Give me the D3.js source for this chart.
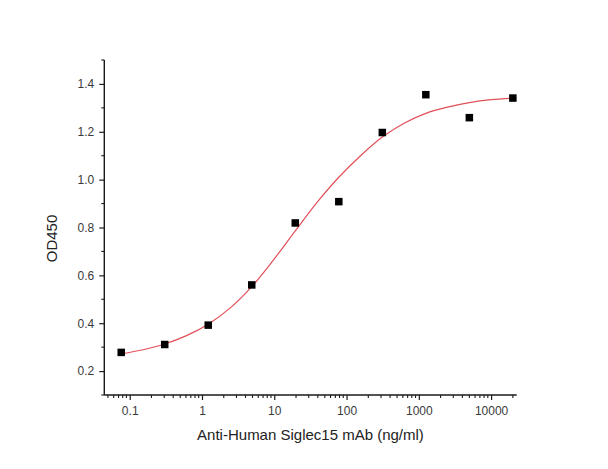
<!DOCTYPE html>
<html>
<head>
<meta charset="utf-8">
<script src="https://cdn.jsdelivr.net/npm/d3@7"></script>
<style>
  html, body { margin: 0; padding: 0; background: #fff; }
  svg { display: block; }
</style>
</head>
<body>
<svg id="chart" width="608" height="469"></svg>
<script>
// Measured points (4-fold dilution series, ng/ml) and OD450 readings
const concentrations = [0.0763, 0.305, 1.22, 4.88, 19.53, 78.125, 312.5, 1250, 5000, 20000];
const od450 = [0.278, 0.311, 0.392, 0.560, 0.819, 0.908, 1.197, 1.355, 1.259, 1.341];

// Fitted curve (2-fold steps)
const fitConc = [20000, 10000, 5000, 2500, 1250, 625, 312.5, 156.25, 78.125, 39.06, 19.53, 9.77, 4.88, 2.44, 1.22, 0.61, 0.305, 0.153, 0.0763];
const fitOD = [1.340, 1.334, 1.322, 1.303, 1.277, 1.236, 1.178, 1.100, 1.010, 0.905, 0.786, 0.665, 0.553, 0.463, 0.396, 0.348, 0.313, 0.289, 0.272];

// Axis ticks
const xTickValues = [0.1, 1, 10, 100, 1000, 10000];
const xTickLabels = ["0.1", "1", "10", "100", "1000", "10000"];
const yTickValues = [0.2, 0.4, 0.6, 0.8, 1.0, 1.2, 1.4];
const yTickLabels = ["0.2", "0.4", "0.6", "0.8", "1.0", "1.2", "1.4"];
const yMinorValues = [0.1, 0.3, 0.5, 0.7, 0.9, 1.1, 1.3, 1.5];

const xTitle = "Anti-Human Siglec15 mAb (ng/ml)";
const yTitle = "OD450";

(function () {
const svg = d3.select("#chart");
const mLeft = 104.3, mRight = 516.7, mTop = 60, mBottom = 395;

const x = d3.scaleLog().domain([0.0445, 22600]).range([mLeft, mRight]);
const y = d3.scaleLinear().domain([0.1, 1.5]).range([mBottom, mTop]);

const font = "Arial, 'Liberation Sans', sans-serif";
const axisColor = "#1a1a1a";
const labelColor = "#3a3a3a";

// x minor ticks (log 2..9 per decade)
const xMinor = [];
for (let e = -2; e <= 4; e++) {
  for (let m = 2; m <= 9; m++) {
    const v = m * Math.pow(10, e);
    if (v >= x.domain()[0] && v <= x.domain()[1]) xMinor.push(v);
  }
}

// X axis
const gx = svg.append("g").attr("transform", `translate(0,${mBottom})`);
gx.call(d3.axisBottom(x).tickValues(xTickValues).tickFormat((d, i) => xTickLabels[i]).tickSize(5).tickPadding(6));
gx.select(".domain").attr("stroke", axisColor).attr("stroke-width", 1.4).attr("d", `M${mLeft},0H${mRight}`);
gx.selectAll(".tick line").attr("stroke", axisColor).attr("stroke-width", 1.2);
gx.selectAll(".tick text").attr("fill", labelColor).style("font-family", font).style("font-size", "12px");
gx.selectAll(".minor").data(xMinor).enter().append("line")
  .attr("class", "minor")
  .attr("x1", d => x(d)).attr("x2", d => x(d))
  .attr("y1", 0).attr("y2", 3)
  .attr("stroke", axisColor).attr("stroke-width", 1.1);

// Y axis
const gy = svg.append("g").attr("transform", `translate(${mLeft},0)`);
gy.call(d3.axisLeft(y).tickValues(yTickValues).tickFormat((d, i) => yTickLabels[i]).tickSize(5).tickPadding(5));
gy.select(".domain").attr("stroke", axisColor).attr("stroke-width", 1.4).attr("d", `M0,${mTop}V${mBottom}`);
gy.selectAll(".tick line").attr("stroke", axisColor).attr("stroke-width", 1.2);
gy.selectAll(".tick text").attr("fill", labelColor).style("font-family", font).style("font-size", "12px");
gy.selectAll(".minor").data(yMinorValues).enter().append("line")
  .attr("class", "minor")
  .attr("x1", 0).attr("x2", -3)
  .attr("y1", d => y(d)).attr("y2", d => y(d))
  .attr("stroke", axisColor).attr("stroke-width", 1.1);

// Fit curve
const fitData = fitConc.map((c, i) => ({ c, v: fitOD[i] })).sort((a, b) => a.c - b.c);
svg.append("path")
  .datum(fitData)
  .attr("fill", "none")
  .attr("stroke", "#e2505a")
  .attr("stroke-width", 1.2)
  .attr("d", d3.line().x(d => x(d.c)).y(d => y(d.v)).curve(d3.curveCatmullRom.alpha(0.5)));

// Points
const s = 7.5;
svg.selectAll(".pt").data(concentrations.map((c, i) => ({ c, v: od450[i] })))
  .enter().append("rect")
  .attr("class", "pt")
  .attr("x", d => x(d.c) - s / 2).attr("y", d => y(d.v) - s / 2)
  .attr("width", s).attr("height", s)
  .attr("fill", "#000");

// Titles
svg.append("text")
  .attr("x", (mLeft + mRight) / 2).attr("y", 440)
  .attr("text-anchor", "middle")
  .attr("fill", "#222")
  .style("font-family", font).style("font-size", "15px")
  .text(xTitle);

svg.append("text")
  .attr("transform", `translate(57,${(mTop + mBottom) / 2 + 11}) rotate(-90)`)
  .attr("text-anchor", "middle")
  .attr("fill", "#222")
  .style("font-family", font).style("font-size", "15px")
  .text(yTitle);
})();
</script>
</body>
</html>
